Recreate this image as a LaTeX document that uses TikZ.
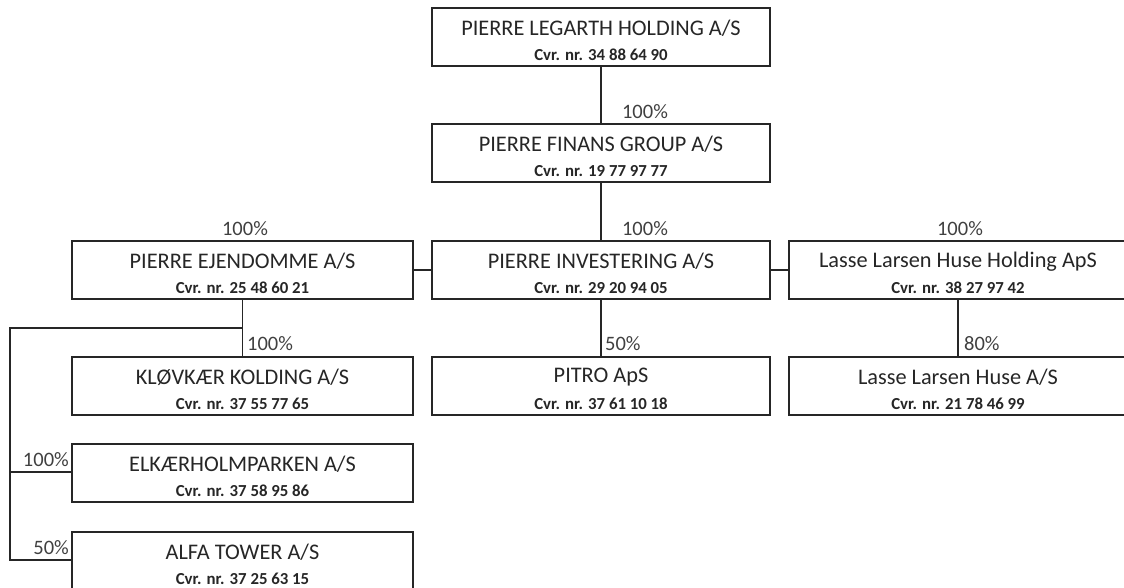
\documentclass[tikz,border=0pt]{standalone}
\usepackage{fontspec}
\setmainfont{Carlito}
\begin{document}
\begin{tikzpicture}[x=1pt,y=-1pt,
  box/.style={draw=black!85,line width=1.3pt,rectangle,minimum height=58pt,inner sep=0pt},
  ttl/.style={font=\fontsize{22.3}{24}\selectfont,inner sep=0pt,text=black!85},
  cvr/.style={font=\fontsize{16.8}{18}\selectfont\bfseries,inner sep=0pt,text=black!85},
  pct/.style={font=\fontsize{20.5}{22}\selectfont,inner sep=0pt,text=black!75},
  link/.style={draw=black!85,line width=1.2pt}]
\useasboundingbox (0,0) rectangle (1124,588);
% boxes
\node[box,minimum width=338pt] (top) at (601,37) {};
\node[box,minimum width=338pt] (fin) at (601,153) {};
\node[box,minimum width=338pt] (inv) at (601,270) {};
\node[box,minimum width=341pt] (ejd) at (242.5,270) {};
\node[box,minimum width=338pt] (llh) at (958,270) {};
\node[box,minimum width=341pt] (klo) at (242.5,386) {};
\node[box,minimum width=338pt] (pit) at (601,386) {};
\node[box,minimum width=338pt] (llx) at (958,386) {};
\node[box,minimum width=341pt] (elk) at (242.5,473) {};
\node[box,minimum width=341pt] (alf) at (242.5,561) {};
% texts
\foreach \b/\t/\c in {top/PIERRE LEGARTH HOLDING A\slash S/34 88 64 90,
  fin/PIERRE FINANS GROUP A\slash S/19 77 97 77,
  inv/PIERRE INVESTERING A\slash S/29 20 94 05,
  ejd/PIERRE EJENDOMME A\slash S/25 48 60 21,
  llh/Lasse Larsen Huse Holding ApS/38 27 97 42,
  klo/KLØVKÆR KOLDING A\slash S/37 55 77 65,
  pit/PITRO ApS/37 61 10 18,
  llx/Lasse Larsen Huse A\slash S/21 78 46 99,
  elk/ELKÆRHOLMPARKEN A\slash S/37 58 95 86,
  alf/ALFA TOWER A\slash S/37 25 63 15}{
  \node[ttl] (\b-t) at ([yshift=-21pt]\b.north) {\t};
  \node[cvr] (\b-c) at ([yshift=-47.5pt]\b.north) {Cvr. nr. \c};
}
% connectors
\draw[link] (top.south) -- (fin.north);
\draw[link] (fin.south) -- (inv.north);
\draw[link] (ejd.east) -- (inv.west);
\draw[link] (inv.east) -- (llh.east -| llh.west);
\draw[link] (inv.south) -- (pit.north);
\draw[link] (llh.south) -- (llx.north);
\coordinate (br) at (242.5,328);
\coordinate (lc) at (10,328);
\coordinate (le) at (10,472);
\coordinate (la) at (10,560);
\draw[link] (ejd.south) -- (klo.north);
\draw[link] (br) -- (lc) -- (la) -- (la -| alf.west);
\draw[link] (le) -- (le -| elk.west);
% percentages
\node[pct] (p1) at (645,112) {100\%};
\node[pct] (p2) at (645,229) {100\%};
\node[pct] (p3) at (245,229) {100\%};
\node[pct] (p4) at (960,229) {100\%};
\node[pct,anchor=west] (p5) at (247,344) {100\%};
\node[pct,anchor=west] (p6) at (605,344) {50\%};
\node[pct,anchor=west] (p7) at (964,344) {80\%};
\node[pct,anchor=east] (p8) at (69,460) {100\%};
\node[pct,anchor=east] (p9) at (69,548) {50\%};
\end{tikzpicture}
\end{document}
